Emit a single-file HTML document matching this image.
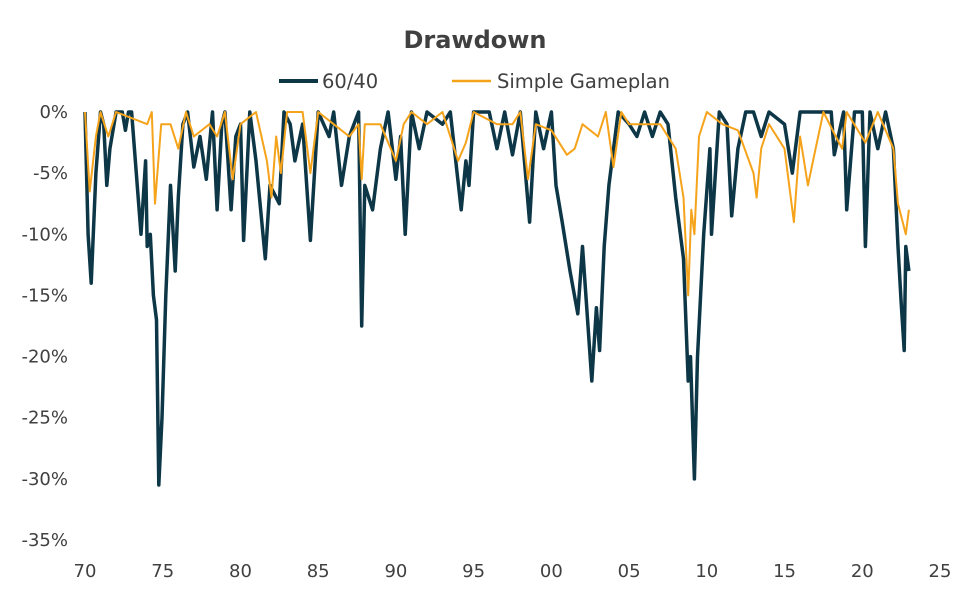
<!DOCTYPE html>
<html><head><meta charset="utf-8"><style>
body{margin:0;background:#fff;}
svg{display:block;font-family:"DejaVu Sans","Liberation Sans",sans-serif;}
</style></head><body>
<svg id="chart" width="956" height="593" viewBox="0 0 956 593">
<text x="475" y="48" text-anchor="middle" font-size="24" font-weight="bold" fill="#404040">Drawdown</text>
<g>
<line x1="279" y1="81" x2="318" y2="81" stroke="#0d3747" stroke-width="4"/>
<text x="322" y="88" font-size="19.5" fill="#404040">60/40</text>
<line x1="452" y1="81" x2="491" y2="81" stroke="#f5a31a" stroke-width="2.5"/>
<text x="497" y="88" font-size="19.5" fill="#404040">Simple Gameplan</text>
</g>
<g id="axes"></g>
<g id="series"></g>
</svg>
<script>
const yTicks=[0,-5,-10,-15,-20,-25,-30,-35];
const xTicks=[1970,1975,1980,1985,1990,1995,2000,2005,2010,2015,2020,2025];
const xLabels=["70","75","80","85","90","95","00","05","10","15","20","25"];
const t6040=[70,70.2,70.4,70.7,71,71.2,71.4,71.6,72,72.4,72.6,72.8,73,73.3,73.6,73.9,74,74.2,74.4,74.6,74.75,74.95,75.2,75.5,75.8,76,76.3,76.6,77,77.4,77.8,78.2,78.5,78.8,79,79.4,79.7,80,80.2,80.6,81,81.6,81.9,82.5,82.8,83.2,83.5,84,84.5,85,85.7,86,86.5,87,87.6,87.8,88,88.5,89,89.5,90,90.3,90.6,91,91.5,92,93,93.5,94.2,94.5,94.7,95,96,96.5,97,97.5,98,98.6,99,99.5,100,100.3,100.7,101.2,101.7,102,102.6,102.9,103.1,103.4,103.7,104.3,105,105.5,106,106.5,107,107.5,108,108.5,108.8,108.95,109.2,109.4,109.8,110.2,110.3,110.8,111.3,111.6,112,112.5,113,113.5,114,115,115.5,116,117,118,118.2,118.8,119,119.5,120,120.2,120.5,121,121.5,122,122.3,122.5,122.7,122.8,123,123.1];
const v6040=[0,-10,-14,-5,0,-1,-6,-3,0,0,-1.5,0,0,-5,-10,-4,-11,-10,-15,-17,-30.5,-25,-15,-6,-13,-7,-1,0,-4.5,-2,-5.5,0,-8,-1,0,-8,-2,-1,-10.5,0,-4,-12,-6,-7.5,0,-1,-4,-1,-10.5,0,-2,0,-6,-2,0,-17.5,-6,-8,-3,0,-5.5,-2,-10,0,-3,0,-1,0,-8,-4,-6,0,0,-3,0,-3.5,0,-9,0,-3,0,-6,-9,-13,-16.5,-11,-22,-16,-19.5,-11,-6,0,-1,-2,0,-2,0,-1,-7,-12,-22,-20,-30,-20,-10,-3,-10,0,-1,-8.5,-3,0,0,-2,0,-1,-5,0,0,0,-3.5,0,-8,0,0,-11,0,-3,0,-3,-11,-15.5,-19.5,-11,-13];
const tGame=[70,70.3,70.7,71,71.5,72,74,74.3,74.5,74.9,75.5,76,76.5,77,78,78.5,79,79.5,80,81,81.7,82,82.3,82.6,83,84,84.5,85,86,87,87.6,87.8,88,89,90,90.5,91,92,93,94,94.5,95,96.5,97.5,98,98.5,99,100,101,101.5,102,103,103.5,104,104.5,105,106,107,108,108.5,108.8,109,109.2,109.5,110,111,112,113,113.2,113.5,114,115,115.6,116,116.5,117,117.5,118.3,118.7,119,120.2,121,122,122.3,122.8,123];
const vGame=[0,-6.5,-2,0,-2,0,-1,0,-7.5,-1,-1,-3,0,-2,-1,-2,0,-5.5,-1,0,-4,-7,-2,-5,0,0,-5,0,-1,-2,-1,-5.5,-1,-1,-4,-1,0,-1,0,-4,-2.5,0,-1,-1,0,-5.5,-1,-1.5,-3.5,-3,-1,-2,0,-4.5,0,-1,-1,-1,-3,-7,-15,-8,-10,-2,0,-1,-1.5,-5,-7,-3,-1,-3,-9,-2,-6,-3,0,-2,-3,0,-2.5,0,-3,-7.5,-10,-8];
const X0=85,X1=940,Y0=112,Y1=540;
const xs=y=>X0+(y-1970)/(2025-1970)*(X1-X0);
const xt=t=>xs(t+1900);
const ys=v=>Y0+(v/-35)*(Y1-Y0);
const NS="http://www.w3.org/2000/svg";
const axes=document.getElementById('axes');
yTicks.forEach(v=>{const t=document.createElementNS(NS,'text');


t.setAttribute('x',68);t.setAttribute('y',ys(v)+6);t.setAttribute('text-anchor','end');
t.setAttribute('font-size','18');t.setAttribute('fill','#404040');t.textContent=v+'%';axes.appendChild(t);});
xTicks.forEach((y,i)=>{const t=document.createElementNS(NS,'text');


t.setAttribute('x',xs(y));t.setAttribute('y',577);t.setAttribute('text-anchor','middle');
t.setAttribute('font-size','18');t.setAttribute('fill','#404040');t.textContent=xLabels[i];axes.appendChild(t);});
const ser=document.getElementById('series');
function line(ts,vs,color,w,name){const p=document.createElementNS(NS,'polyline');


p.setAttribute('points',ts.map((t,i)=>xt(t).toFixed(1)+','+ys(vs[i]).toFixed(1)).join(' '));
p.setAttribute('fill','none');p.setAttribute('stroke',color);p.setAttribute('stroke-width',w);p.setAttribute('stroke-linejoin','round');ser.appendChild(p);}
line(t6040,v6040,'#0d3747',3.5,'series-6040');
line(tGame,vGame,'#f5a31a',2,'series-simple-gameplan');
</script>
</body></html>
